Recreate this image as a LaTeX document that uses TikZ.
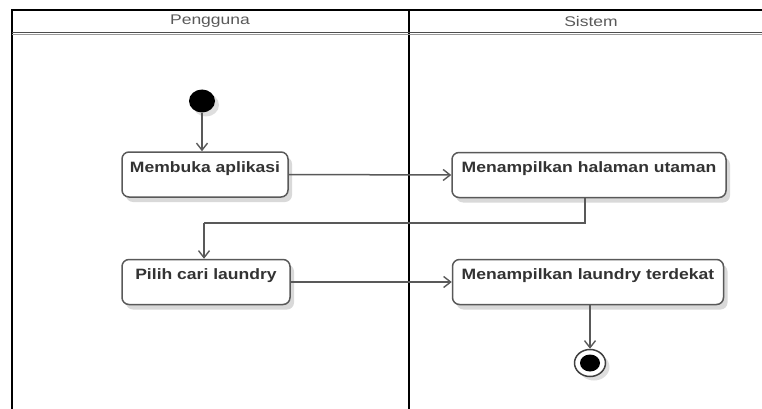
\documentclass[tikz,border=0pt]{standalone}
\usepackage{fontspec}
\usepackage{graphicx}
\setmainfont{Liberation Sans}
\usetikzlibrary{arrows.meta,shapes.geometric,shadows}
\newcommand{\sx}[1]{\scalebox{1.17}[1]{#1}}
\newcommand{\hx}[1]{\scalebox{1.25}[1]{#1}}
\begin{document}
\begin{tikzpicture}[x=1pt,y=-1pt,
  act/.style={draw=black!65, line width=1.5pt, rounded corners=7pt, fill=white,
    drop shadow={shadow xshift=4pt, shadow yshift=-5pt, fill=black!15, opacity=1},
    font=\fontsize{15}{17}\selectfont\bfseries, text=black!80,
    inner xsep=0pt, inner ysep=0pt, text height=20pt, text depth=25pt},
  conn/.style={draw=black!65, line width=1.5pt},
  arr/.style={conn, -{Straight Barb[length=7pt,width=11pt,line width=1.4pt]}},
  frame/.style={draw=black, line width=2.3pt},
  hdr/.style={font=\fontsize{14}{16}\selectfont, text=black!65, inner sep=0pt}]
\useasboundingbox (0,0) rectangle (762,409);
% swimlane frame
\draw[frame] (12,409) -- (12,10) -- (762,10);
\draw[frame, line width=2.6pt] (409,10) -- (409,409);
\draw[draw=black!70, line width=1.5pt] (12,32.5) -- (762,32.5);
\draw[draw=black!40, line width=1.3pt] (12,34.3) -- (762,34.3);
\node[hdr] (h1) at (210,21) {\hx{Pengguna}};
\node[hdr] (h2) at (591,21) {\hx{Sistem}};
% nodes
\node[ellipse, fill=black, minimum width=26pt, minimum height=23pt, inner sep=0pt,
  drop shadow={shadow xshift=4pt, shadow yshift=-4pt, fill=black!13, opacity=1}] (start) at (202,101) {};
\node[act, minimum width=166pt] (mem) at (205,174.5) {\sx{Membuka aplikasi}};
\node[act, minimum width=274pt] (hal) at (589,175) {\sx{Menampilkan halaman utaman}};
\node[act, minimum width=168pt] (pil) at (206,282) {\sx{Pilih cari laundry}};
\node[act, minimum width=271pt] (lau) at (588,282) {\sx{Menampilkan laundry terdekat}};
\node[ellipse, draw=black!75, line width=1.5pt, fill=white, minimum width=31pt, minimum height=27pt, inner sep=0pt,
  drop shadow={shadow xshift=4pt, shadow yshift=-4pt, fill=black!13, opacity=1}] (end) at (590,363) {};
\node[ellipse, fill=black, minimum width=20pt, minimum height=17pt, inner sep=0pt] (endin) at (590,363) {};
% connectors
\coordinate (b1) at (585,223);
\coordinate (b2) at (204,223);
\draw[arr] (start.south) -- (start.south |- mem.north);
\draw[arr] (mem.east) -- (hal.west);
\draw[conn] (b1 |- hal.south) -- (b1) -- (b2);
\draw[arr] (b2) -- (b2 |- pil.north);
\draw[arr] (pil.east) -- (lau.west);
\draw[arr] (lau.south -| end.north) -- (end.north);
\end{tikzpicture}
\end{document}
